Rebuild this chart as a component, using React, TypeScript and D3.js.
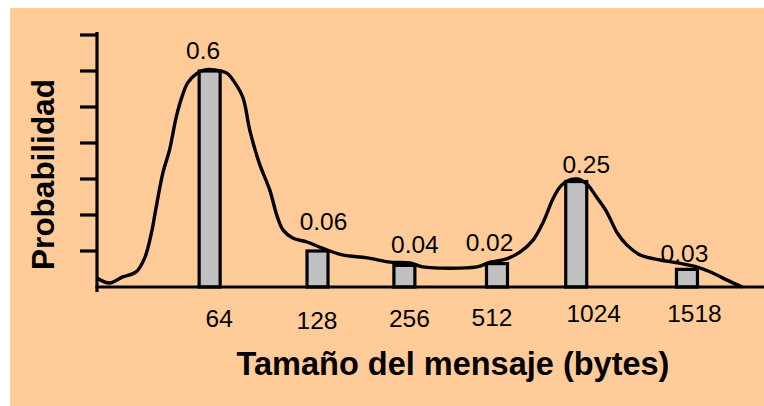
import React from "react";
import * as d3 from "d3";

// ---- data ----
const categories = ["64", "128", "256", "512", "1024", "1518"];
const probabilityLabels = ["0.6", "0.06", "0.04", "0.02", "0.25", "0.03"];
// drawn bar heights (schematic, not to scale with labels)
const barHeights = [0.6, 0.1, 0.06, 0.065, 0.293, 0.049];
// bar positions along the (schematic) message-size axis, in slot units
const barSlots = [1.0, 2.13, 3.04, 4.01, 4.84, 6.0];
const yTicks = [0.1, 0.2, 0.3, 0.4, 0.5, 0.6, 0.7];
// hand-drawn density curve: [slot, probability]
const curve: [number, number][] = [
  [-0.18, 0.025], [-0.05, 0.011], [0.09, 0.028], [0.23, 0.042], [0.32, 0.081],
  [0.39, 0.15], [0.44, 0.222], [0.51, 0.317], [0.58, 0.381], [0.65, 0.472],
  [0.71, 0.528], [0.77, 0.567], [0.86, 0.592], [0.95, 0.603], [1.05, 0.603],
  [1.18, 0.594], [1.26, 0.569], [1.35, 0.525], [1.42, 0.436], [1.52, 0.344],
  [1.63, 0.269], [1.71, 0.194], [1.77, 0.158], [1.87, 0.136], [2.02, 0.125],
  [2.18, 0.108], [2.39, 0.089], [2.65, 0.081], [2.89, 0.069], [3.1, 0.067],
  [3.23, 0.056], [3.8, 0.056], [3.94, 0.069], [4.11, 0.078], [4.25, 0.097],
  [4.39, 0.131], [4.49, 0.178], [4.6, 0.247], [4.67, 0.278], [4.74, 0.294],
  [4.85, 0.3], [4.95, 0.286], [5.06, 0.247], [5.16, 0.208], [5.27, 0.15],
  [5.37, 0.117], [5.51, 0.089], [5.72, 0.075], [5.9, 0.067], [6.1, 0.056],
  [6.27, 0.039], [6.42, 0.019], [6.58, 0.0],
];

// ---- layout ----
const W = 764;
const H = 406;
const AXIS_X = 97;
const AXIS_Y = 287;
const BAR_W = 21;
const FONT = "'Liberation Sans', Arial, Helvetica, sans-serif";
// label placement tweaks [dx, dy]
const valueLabelOffsets: [number, number][] = [
  [-6.5, -12], [6, -21], [10.5, -12.4], [-7.5, -12.6], [10, -8.5], [-2.5, -7.4],
];
const tickLabelOffsets: [number, number][] = [
  [9.5, 39.7], [-0.5, 42], [5, 39.7], [-5, 38.7], [17.5, 34.7], [7.5, 34.7],
];

export default function App() {
  const x = d3.scaleLinear().domain([-0.18, 6.807]).range([AXIS_X, W]);
  const y = d3.scaleLinear().domain([0, 0.7]).range([AXIS_Y, 35]);
  const line = d3
    .line<[number, number]>()
    .x((d) => x(d[0]))
    .y((d) => y(d[1]))
    .curve(d3.curveCatmullRom.alpha(0.5));

  return (
    <svg
      width={W}
      height={H}
      style={{ position: "absolute", left: 0, top: 0 }}
      fontFamily={FONT}
    >
      <rect x={0} y={0} width={W} height={H} fill="#ffffff" />
      <rect x={10} y={8} width={W - 10} height={H - 8} fill="#FFCC99" />

      {/* bars */}
      {barHeights.map((h, i) => (
        <rect
          key={"b" + i}
          x={x(barSlots[i]) - BAR_W / 2}
          y={y(h)}
          width={BAR_W}
          height={y(0) - y(h)}
          fill="#C0C0C0"
          stroke="#000"
          strokeWidth={3.2}
        />
      ))}

      {/* curve */}
      <path d={line(curve) || ""} fill="none" stroke="#000" strokeWidth={3.4} strokeLinejoin="round" />

      {/* axes */}
      <line x1={AXIS_X} x2={AXIS_X} y1={32} y2={292} stroke="#000" strokeWidth={3.2} />
      <line x1={AXIS_X - 1.5} x2={W} y1={AXIS_Y} y2={AXIS_Y} stroke="#000" strokeWidth={3.2} />
      {yTicks.map((t) => (
        <line key={"t" + t} x1={80} x2={AXIS_X} y1={y(t)} y2={y(t)} stroke="#000" strokeWidth={3.2} />
      ))}

      {/* value labels */}
      {probabilityLabels.map((l, i) => (
        <text
          key={"v" + i}
          x={x(barSlots[i]) + valueLabelOffsets[i][0]}
          y={y(barHeights[i]) + valueLabelOffsets[i][1]}
          textAnchor="middle"
          fontSize={24.5}
          fill="#000"
        >
          {l}
        </text>
      ))}

      {/* category labels */}
      {categories.map((c, i) => (
        <text
          key={"c" + i}
          x={x(barSlots[i]) + tickLabelOffsets[i][0]}
          y={AXIS_Y + tickLabelOffsets[i][1]}
          textAnchor="middle"
          fontSize={24.5}
          fill="#000"
        >
          {c}
        </text>
      ))}

      {/* axis titles */}
      <text x={453} y={375} textAnchor="middle" fontSize={32.5} fontWeight="bold" fill="#000">
        Tamaño del mensaje (bytes)
      </text>
      <text
        transform="translate(54,174.5) rotate(-90)"
        textAnchor="middle"
        fontSize={31.5}
        fontWeight="bold"
        fill="#000"
      >
        Probabilidad
      </text>
    </svg>
  );
}
